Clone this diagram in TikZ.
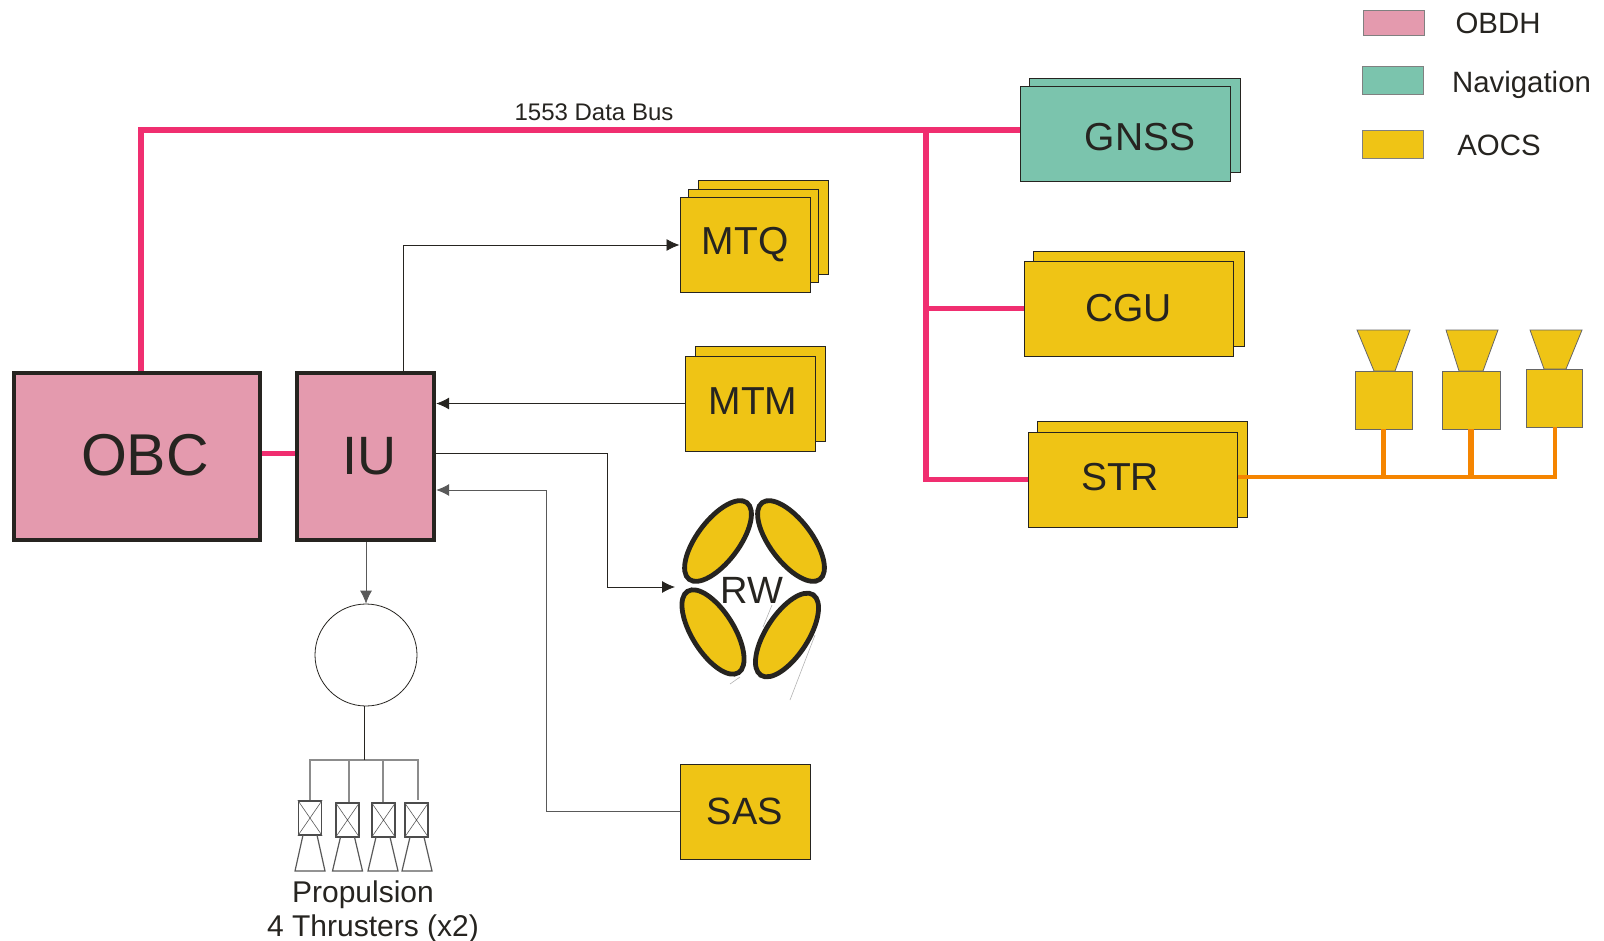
\documentclass[tikz,border=0pt]{standalone}
\usepackage{fontspec}
\setmainfont{Liberation Sans}
\usepackage{xcolor}
\usetikzlibrary{arrows.meta,shapes.geometric}
\definecolor{softpink}{RGB}{228,154,174}
\definecolor{softteal}{RGB}{123,196,173}
\definecolor{softyellow}{RGB}{239,196,21}
\definecolor{busred}{RGB}{240,46,112}
\definecolor{linkorange}{RGB}{245,133,0}
\definecolor{darkink}{RGB}{38,36,32}
\tikzset{
	unitbox/.style={draw=darkink, fill=softpink, line width=2.2pt, inner sep=0pt},
	aocsbox/.style={draw=darkink, fill=softyellow, line width=0.5pt, inner sep=0pt, minimum width=#1},
	aocsbox/.default=65pt,
	navbox/.style={draw=darkink, fill=softteal, line width=0.5pt, inner sep=0pt},
	legendbox/.style={draw=gray, line width=0.4pt, minimum width=30.5pt, inner sep=0pt},
	rwlobe/.style={ellipse, draw=darkink, fill=softyellow, line width=2.4pt, minimum width=48pt, minimum height=21pt, inner sep=0pt},
	busline/.style={busred, line width=2.8pt},
	orangeline/.style={linkorange, line width=2.4pt},
	ctrlarrow/.style={-{Latex[length=6.5pt,width=6pt]}, darkink, line width=0.4pt},
	hornshape/.style={draw=gray!80!black, fill=softyellow, line width=0.4pt},
	thrustline/.style={gray!90, line width=0.7pt}
}
\begin{document}
\begin{tikzpicture}[x=0.5pt,y=-0.5pt]
	\useasboundingbox (0,0) rectangle (1604,941);

	\node[legendbox, fill=softpink, minimum height=12.5pt] (legobdh) at (1393.5,22.5) {};
	\node[legendbox, fill=softteal, minimum height=14pt] (legnav) at (1392.5,80) {};
	\node[legendbox, fill=softyellow, minimum height=14pt] (legaocs) at (1392.5,144) {};
	\node[font=\fontsize{14.7}{16}\selectfont, text=darkink] (txtobdh) at (1498,23) {OBDH};
	\node[font=\fontsize{14.7}{16}\selectfont, text=darkink] (txtnav) at (1521.5,85) {Navigation};
	\node[font=\fontsize{14.7}{16}\selectfont, text=darkink] (txtaocs) at (1499,145) {AOCS};

	\node[unitbox, minimum width=123pt, minimum height=83.5pt, text=darkink] (obc) at (137,456.5) {};
	\node[font=\fontsize{29.5}{32}\selectfont, text=darkink] (obclabel) at (145,455) {OBC};
	\node[unitbox, minimum width=68.5pt, minimum height=83.5pt, font=\fontsize{27}{30}\selectfont, text=darkink] (iu) at (365.5,456.5) {\hspace*{4pt}IU};

	\node[navbox, minimum width=105.5pt, minimum height=47pt] (gnssback) at (1134.5,126) {};
	\node[navbox, minimum width=105pt, minimum height=47.5pt] (gnss) at (1125,134.5) {};
	\node[font=\fontsize{19.5}{22}\selectfont, text=darkink] (gnsslabel) at (1140,137.5) {GNSS};
	\node[aocsbox=105.5pt, minimum height=47.5pt] (cgubback) at (1138.5,298.5) {};
	\node[aocsbox=104.5pt, minimum height=47.5pt, font=\fontsize{19.5}{22}\selectfont, text=darkink] (cgu) at (1128.5,308.5) {CGU};
	\node[aocsbox=105pt, minimum height=48pt] (strback) at (1142,469) {};
	\node[aocsbox=104.5pt, minimum height=47.5pt] (str) at (1132.5,479.5) {};
	\node[font=\fontsize{19.5}{22}\selectfont, text=darkink] (strlabel) at (1120,477) {STR};

	\node[aocsbox, minimum height=46.5pt] (mtqback) at (763.5,227.5) {};
	\node[aocsbox, minimum height=46.5pt] (mtqmid) at (753.5,236) {};
	\node[aocsbox, minimum height=47pt, font=\fontsize{19.5}{22}\selectfont, text=darkink] (mtq) at (745,245) {MTQ};
	\node[aocsbox, minimum height=47.5pt] (mtmback) at (760,393.5) {};
	\node[aocsbox, minimum height=47.5pt] (mtm) at (750,403.5) {};
	\node[font=\fontsize{19.5}{22}\selectfont, text=darkink] (mtmlabel) at (753,401.5) {MTM};
	\node[aocsbox, minimum height=47.5pt, font=\fontsize{19}{22}\selectfont, text=darkink] (sas) at (745,811.5) {SAS};

	\draw[gray!60, line width=0.3pt] (772,605) -- (763,627);
	\draw[gray!60, line width=0.3pt] (815,635) -- (790,700);
	\draw[gray!60, line width=0.3pt] (740,677) -- (730,684);
	\node[rwlobe, rotate=53] (rwa) at (718,541) {};
	\node[rwlobe, rotate=-53] (rwb) at (791,541) {};
	\node[rwlobe, rotate=-58] (rwc) at (713,632) {};
	\node[rwlobe, rotate=57] (rwd) at (787,635) {};
	\node[font=\fontsize{19}{22}\selectfont, text=darkink] (rw) at (752,590) {RW};

	\coordinate (busbend) at (141,130);
	\coordinate (busjoin) at (926,130);
	\draw[busline] (obc.north -| busbend) -- (busbend) -- (gnss.west |- busbend);
	\draw[busline] (busjoin) -- (busjoin |- str.west) -- (str.west);
	\draw[busline] (busjoin |- cgu.west) -- (cgu.west);
	\draw[busred, line width=2.2pt] ([yshift=1.5pt]obc.east) -- ([yshift=1.5pt]iu.west);
	\node[font=\fontsize{12}{14}\selectfont, text=darkink] (buslabel) at (594,112) {1553 Data Bus};

	\coordinate (mtqbend) at (403,245);
	\coordinate (rwbend) at (607,587);
	\coordinate (sasbend) at (546,490);
	\draw[ctrlarrow] (iu.north -| mtqbend) -- (mtqbend) -- (mtq.west);
	\draw[ctrlarrow] (mtm.west) -- (mtm.west -| iu.east);
	\draw[ctrlarrow] ([yshift=1.5pt]iu.east) -| (rwbend) -- (675,587);
	\draw[ctrlarrow, gray!70!black] (sas.west) -| (sasbend) -- (sasbend -| iu.east);

	\foreach \name/\cx/\cy/\topa/\topb/\necka/\neckb/\bw in {horna/1383.5/400/1357/1410/1374/1395/28.5, hornb/1471/400/1446/1498/1459/1483/29, hornc/1554/398/1530/1582/1544/1566/28}{
		\node[hornshape, minimum width=\bw pt, minimum height=29pt, inner sep=0pt] (\name) at (\cx,\cy) {};
		\draw[hornshape] (\topa,330) -- (\topb,330) -- (\neckb,\cy-29) -- (\necka,\cy-29) -- cycle;
	}
	\coordinate (strbus) at (1555,477);
	\draw[orangeline] (str.east |- strbus) -- (strbus) -- (strbus |- hornc.south);
	\draw[orangeline] (horna.south) -- (horna.south |- strbus);
	\draw[linkorange, line width=3.2pt] (hornb.south) -- (hornb.south |- strbus);

	\node[circle, draw=darkink, line width=0.4pt, minimum size=51pt, inner sep=0pt] (tank) at (366,655) {};
	\draw[ctrlarrow, gray!70!black] (iu.south -| tank) -- (tank.north);
	\coordinate (thrustjoin) at (364,760);
	\draw[thrustline] (310,800) -- (310,760) -- (418,760) -- (418,800);
	\draw[thrustline] (349,760) -- (349,802);
	\draw[thrustline] (383,760) -- (383,802);
	\draw[darkink, line width=0.5pt] (tank.south -| thrustjoin) -- (thrustjoin);
	\foreach \name/\vx/\vy/\nx in {tha/310/818/310, thb/347.5/820/347.5, thc/383.5/820/383, thd/416.5/820/417}{
		\node[draw=gray!60!black, line width=0.7pt, minimum width=11.5pt, minimum height=17pt, inner sep=0pt] (\name) at (\vx,\vy) {};
		\draw[gray!70!black, line width=0.3pt] (\name.north west) -- (\name.south east) (\name.north east) -- (\name.south west);
		\draw[gray!70!black, line width=0.6pt] (\nx-7,\vy+17) -- (\nx-15,871) -- (\nx+15,871) -- (\nx+7,\vy+17);
	}
	\node[font=\fontsize{15}{18}\selectfont, text=darkink] (proplabel) at (363,895) {Propulsion};
	\node[font=\fontsize{15}{18}\selectfont, text=darkink] (thrustlabel) at (373,929) {4 Thrusters (x2)};
\end{tikzpicture}
\end{document}
